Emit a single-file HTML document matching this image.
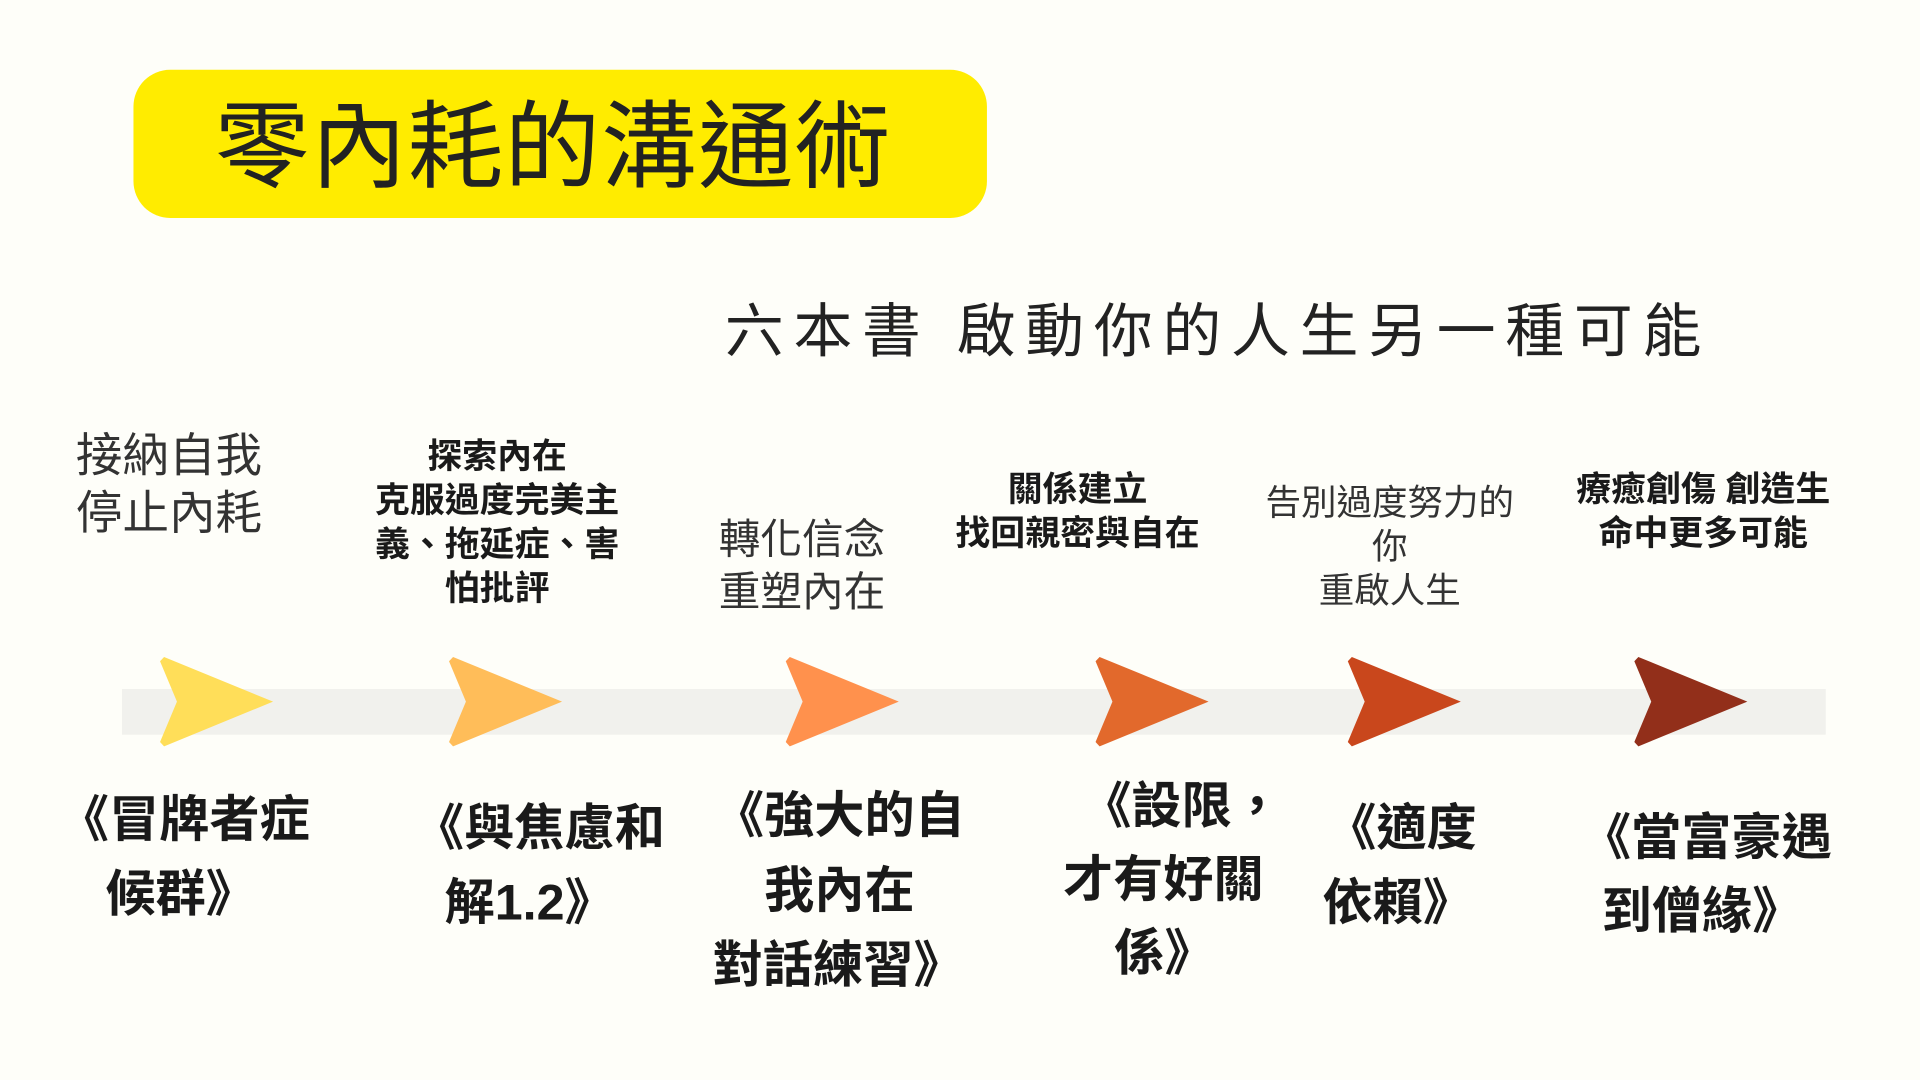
<!DOCTYPE html>
<html><head><meta charset="utf-8"><style>
html,body{margin:0;padding:0;background:#FEFEF9;width:1920px;height:1080px;overflow:hidden}
#w{position:absolute;left:0;top:0;width:1568px;height:882px;transform:scale(1.22449);transform-origin:0 0;font-family:"Liberation Sans","Noto Sans CJK TC",sans-serif;color:#1a1a1a}
.a{position:absolute;white-space:nowrap;line-height:1}
.b{font-weight:bold;font-size:41px}
.c{position:absolute;text-align:center;white-space:nowrap;font-weight:bold;font-size:28.5px;line-height:36px;transform:translateX(-50%)}
.r{position:absolute;text-align:center;white-space:nowrap;font-size:29px;line-height:36px;color:#333;transform:translateX(-50%)}
</style></head><body><div id="w">
<div style="position:absolute;left:109px;top:57px;width:697px;height:121px;background:#FFEC00;border-radius:30px"></div>
<div class="a" style="left:175px;top:81px;font-size:78px;letter-spacing:1px;color:#222">零內耗的溝通術</div>
<div class="a" style="left:592px;top:248px;font-size:48px;letter-spacing:8px;color:#222">六本書 啟動你的人生另一種可能</div>

<svg style="position:absolute;left:0;top:0" width="1568" height="882">
<rect x="99.6" y="562.7" width="1391.4" height="37.3" fill="#F1F1ED"/>
<g><polygon points="130.7,540 134,536.5 223,573 134,609.5 130.7,606 144.5,573" fill="#FFDE59"/></g>
<g transform="translate(236,0)"><polygon points="130.7,540 134,536.5 223,573 134,609.5 130.7,606 144.5,573" fill="#FFBD59"/></g>
<g transform="translate(511,0)"><polygon points="130.7,540 134,536.5 223,573 134,609.5 130.7,606 144.5,573" fill="#FF914D"/></g>
<g transform="translate(764,0)"><polygon points="130.7,540 134,536.5 223,573 134,609.5 130.7,606 144.5,573" fill="#E2692C"/></g>
<g transform="translate(970,0)"><polygon points="130.7,540 134,536.5 223,573 134,609.5 130.7,606 144.5,573" fill="#C9471C"/></g>
<g transform="translate(1204,0)"><polygon points="130.7,540 134,536.5 223,573 134,609.5 130.7,606 144.5,573" fill="#922F1A"/></g>
</svg>

<div class="a" style="left:62px;top:350px;font-size:38px;line-height:47px;color:#333">接納自我<br>停止內耗</div>
<div class="c" style="left:406px;top:355px">探索內在<br>克服過度完美主<br>義、拖延症、害<br>怕批評</div>
<div class="a" style="left:587px;top:420px;font-size:34px;line-height:43px;color:#333">轉化信念<br>重塑內在</div>
<div class="c" style="left:880px;top:382px">關係建立<br>找回親密與自在</div>
<div class="r" style="left:1135px;top:393px">告別過度努力的<br>你<br>重啟人生</div>
<div class="c" style="left:1391px;top:382px">療癒創傷 創造生<br>命中更多可能</div>

<div class="a b" style="left:48px;top:649px">《冒牌者症</div>
<div class="a b" style="left:86px;top:710px">候群》</div>
<div class="a b" style="left:338px;top:656px">《與焦慮和</div>
<div class="a b" style="left:363px;top:717px">解1.2》</div>
<div class="a b" style="left:583px;top:646px">《強大的自</div>
<div class="a b" style="left:624px;top:707px">我內在</div>
<div class="a b" style="left:582px;top:768px">對話練習》</div>
<div class="a b" style="left:883px;top:638px">《設限，</div>
<div class="a b" style="left:868px;top:698px">才有好關</div>
<div class="a b" style="left:910px;top:758px">係》</div>
<div class="a b" style="left:1083px;top:656px">《適度</div>
<div class="a b" style="left:1080px;top:717px">依賴》</div>
<div class="a b" style="left:1291px;top:664px">《當富豪遇</div>
<div class="a b" style="left:1308px;top:724px">到僧緣》</div>
</div></body></html>
